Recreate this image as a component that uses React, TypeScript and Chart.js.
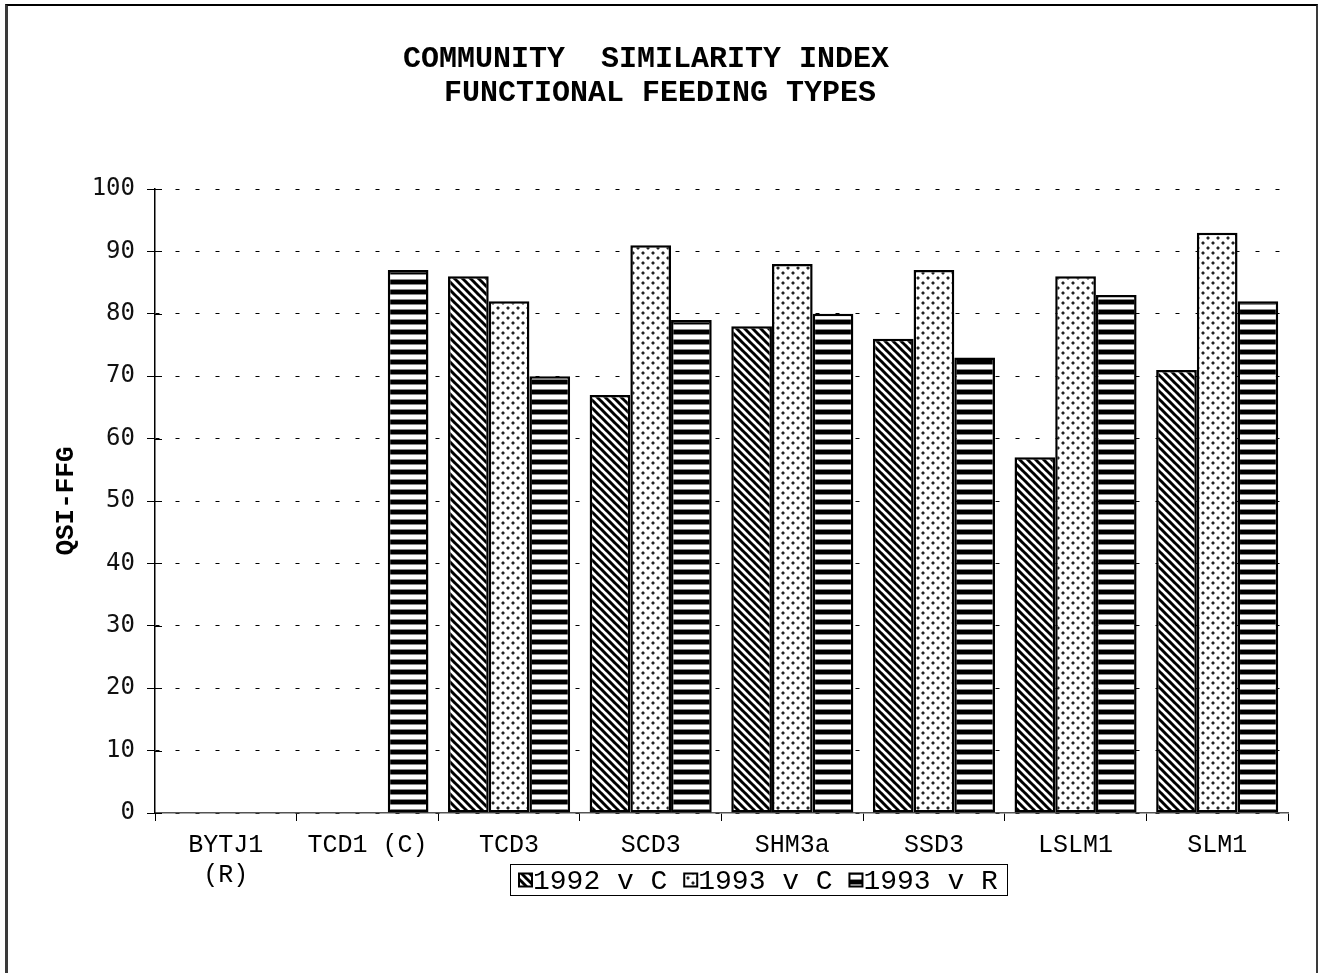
import React, { useEffect, useRef } from "react";
import { Chart, registerables } from "chart.js";

Chart.register(...registerables);

const categories: (string | string[])[] = [
  ["BYTJ1", "(R)"],
  "TCD1 (C)",
  "TCD3",
  "SCD3",
  "SHM3a",
  "SSD3",
  "LSLM1",
  "SLM1",
];
const seriesNames = ["1992 v C", "1993 v C", "1993 v R"];
const values1992vC: (number | null)[] = [null, null, 86, 67, 78, 76, 57, 71];
const values1993vC: (number | null)[] = [null, null, 82, 91, 88, 87, 86, 93];
const values1993vR: (number | null)[] = [null, 87, 70, 79, 80, 73, 83, 82];
const titleLines = ["COMMUNITY  SIMILARITY INDEX", "FUNCTIONAL FEEDING TYPES"];
const yAxisTitle = "QSI-FFG";
const yMin = 0;
const yMax = 100;
const yStep = 10;

function makeDiagonal(): CanvasPattern {
  const n = 8;
  const c = document.createElement("canvas");
  c.width = n;
  c.height = n;
  const g = c.getContext("2d")!;
  g.fillStyle = "#fff";
  g.fillRect(0, 0, n, n);
  g.strokeStyle = "#000";
  g.lineWidth = 3;
  for (const off of [-n, 0, n]) {
    g.beginPath();
    g.moveTo(off - 1, -1);
    g.lineTo(off + n + 1, n + 1);
    g.stroke();
  }
  return g.createPattern(c, "repeat")!;
}

function makeDots(): CanvasPattern {
  const n = 10;
  const c = document.createElement("canvas");
  c.width = n;
  c.height = n;
  const g = c.getContext("2d")!;
  g.fillStyle = "#fff";
  g.fillRect(0, 0, n, n);
  g.fillStyle = "#999";
  g.fillRect(1, 1, 4, 4);
  g.fillRect(6, 6, 4, 4);
  g.fillStyle = "#fff";
  for (const [a, b] of [[1, 1], [4, 1], [1, 4], [4, 4], [6, 6], [9, 6], [6, 9], [9, 9]]) {
    g.fillRect(a, b, 1, 1);
  }
  g.fillStyle = "#222";
  g.fillRect(2, 2, 2, 2);
  g.fillRect(7, 7, 2, 2);
  return g.createPattern(c, "repeat")!;
}

function makeHorizontal(): CanvasPattern {
  const n = 10;
  const c = document.createElement("canvas");
  c.width = n;
  c.height = n;
  const g = c.getContext("2d")!;
  g.fillStyle = "#fff";
  g.fillRect(0, 0, n, n);
  g.fillStyle = "#000";
  g.fillRect(0, 0, n, 4);
  g.fillStyle = "#888";
  g.fillRect(0, 4, n, 1);
  g.fillRect(0, 9, n, 1);
  return g.createPattern(c, "repeat")!;
}

export default function App() {
  const ref = useRef<HTMLCanvasElement | null>(null);

  useEffect(() => {
    const canvas = ref.current;
    if (!canvas) return;
    const patterns = [makeDiagonal(), makeDots(), makeHorizontal()];

    const decor = {
      id: "decor",
      afterDraw(chart: any) {
        const ctx = chart.ctx as CanvasRenderingContext2D;
        const y = chart.scales.y;
        const area = chart.chartArea;
        ctx.save();
        // inner tick extensions on y axis
        ctx.strokeStyle = "#000";
        ctx.lineWidth = 1;
        for (let v = yMin; v <= yMax; v += yStep) {
          const py = Math.round(y.getPixelForValue(v)) + 0.5;
          ctx.beginPath();
          ctx.moveTo(area.left, py);
          ctx.lineTo(area.left + 7, py);
          ctx.stroke();
        }
        // title
        ctx.fillStyle = "#000";
        ctx.textAlign = "center";
        ctx.textBaseline = "middle";
        ctx.font = "bold 30px 'Liberation Mono', monospace";
        ctx.fillText(titleLines[0], 646, 59);
        ctx.fillText(titleLines[1], 660, 93);
        // y axis title
        ctx.save();
        ctx.translate(66, (area.top + area.bottom) / 2);
        ctx.rotate(-Math.PI / 2);
        ctx.font = "bold 26px 'Liberation Mono', monospace";
        ctx.fillText(yAxisTitle, 0, 0);
        ctx.restore();
        // legend
        const lx0 = 510, ly0 = 864, lx1 = 1007, ly1 = 895;
        ctx.strokeStyle = "#000";
        ctx.lineWidth = 1;
        ctx.strokeRect(lx0 + 0.5, ly0 + 0.5, lx1 - lx0, ly1 - ly0);
        ctx.font = "28px 'Liberation Mono', monospace";
        ctx.textAlign = "left";
        ctx.textBaseline = "middle";
        const cw = ctx.measureText("M").width;
        let x = 519;
        const cy = (ly0 + ly1) / 2 + 1;
        seriesNames.forEach((name, i) => {
          ctx.fillStyle = patterns[i];
          ctx.fillRect(x, cy - 7, 13, 13);
          ctx.lineWidth = 2;
          ctx.strokeRect(x, cy - 7, 13, 13);
          ctx.fillStyle = "#000";
          ctx.fillText(name, x + 14, cy + 1);
          x += 14 + ctx.measureText(name).width + cw;
        });
        ctx.restore();
      },
    };

    const chart = new Chart(canvas, {
      type: "bar",
      data: {
        labels: categories as any,
        datasets: [values1992vC, values1993vC, values1993vR].map((d, i) => ({
          label: seriesNames[i],
          data: d,
          backgroundColor: patterns[i],
          borderColor: "#000",
          borderWidth: 2.5,
          borderSkipped: false,
          categoryPercentage: 0.862,
          barPercentage: 1,
        })),
      },
      options: {
        responsive: false,
        animation: false,
        devicePixelRatio: 1,
        layout: { padding: { top: 189, right: 36, bottom: 0, left: 0 } },
        plugins: {
          legend: { display: false },
          title: { display: false },
          tooltip: { enabled: false },
        },
        scales: {
          x: {
            offset: true,
            afterFit: (s: any) => {
              s.height = 160;
            },
            grid: {
              offset: true,
              drawOnChartArea: false,
              color: "#000",
              tickLength: 8,
            },
            border: { display: true, color: "#555", width: 1.5 },
            ticks: {
              color: "#000",
              padding: 9,
              maxRotation: 0,
              autoSkip: false,
              font: { family: "'Liberation Mono', monospace", size: 25, lineHeight: 1.2 },
            },
          },
          y: {
            min: yMin,
            max: yMax,
            afterFit: (s: any) => {
              s.width = 155;
            },
            grid: {
              color: "#000",
              lineWidth: 1,
              tickLength: 8,
              tickColor: "#000",
            },
            border: { display: true, color: "#000", width: 1.5, dash: [4, 16] },
            ticks: {
              stepSize: yStep,
              color: "#111",
              padding: 12,
              font: { family: "'DejaVu Sans Mono', monospace", size: 24 },
            },
          },
        },
      },
      plugins: [decor],
    });
    return () => chart.destroy();
  }, []);

  return (
    <div
      style={{
        position: "fixed",
        left: 0,
        top: 0,
        width: 1324,
        height: 973,
        background: "#fff",
        overflow: "hidden",
      }}
    >
      <div
        style={{
          position: "absolute",
          left: 5,
          top: 4,
          width: 1313,
          height: 1000,
          boxSizing: "border-box",
          borderTop: "2px solid #000",
          borderLeft: "3px solid #3a3a3a",
          borderRight: "2px solid #3a3a3a",
        }}
      />
      <canvas
        ref={ref}
        width={1324}
        height={973}
        style={{ position: "absolute", left: 0, top: 0, width: 1324, height: 973 }}
      />
    </div>
  );
}
